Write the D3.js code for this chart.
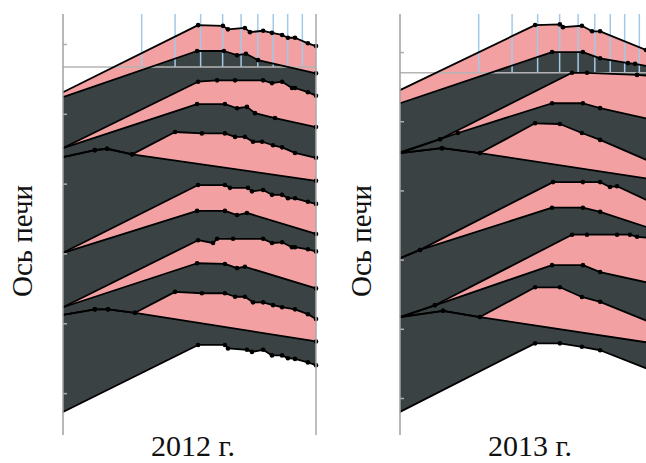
<!DOCTYPE html>
<html><head><meta charset="utf-8">
<script src="https://cdn.jsdelivr.net/npm/d3@7"></script>
<style>body{margin:0;background:#fff}svg{display:block}</style>
</head><body><svg id="c" width="646" height="463"></svg>
<script>
// ---- data: boundary profiles, x = relative position along the section (0..100), y = height (units) ----
const years = ["2012 г.", "2013 г."];
const axisLabel = "Ось печи";
const yTicks = [0, 10, 20, 30, 40, 50];
const refX = [31.1, 44.3, 54.4, 63.1, 70.4, 77.0, 83.1, 88.8, 94.6];
const refY2012 = 46.7;
const refY2013 = 47.0;

const l12_01 = [[0,43.1],[53.4,52.7],[63.2,52.6],[65.2,52.1],[71.9,52.3],[73.9,51.7],[79.1,51.9],[82.6,51.6],[86.6,51.3],[88.9,50.9],[91.7,50.9],[96.8,50.1],[100,49.7]];
const l12_02 = [[0,42.4],[53.0,49.0],[63.6,49.0],[68.8,48.4],[72.3,48.6],[77.1,47.7],[100,45.8]];
const l12_03 = [[0,35.1],[53.4,44.6],[60.9,44.8],[68.0,44.8],[79.1,44.8],[82.6,44.4],[86.6,44.6],[90.5,43.7],[91.7,43.7],[96.8,43.1],[100,42.6]];
const l12_04 = [[0,35.1],[53.0,41.4],[64.0,41.4],[68.8,40.8],[72.7,41.0],[75.9,40.1],[83.8,39.4],[100,38.1]];
const l12_05 = [[0,33.8],[12.6,34.8],[17.4,35.0],[27.3,34.2],[44.3,37.4],[54.9,37.2],[64.0,37.2],[68.0,36.7],[71.9,36.7],[75.1,36.0],[78.7,36.0],[83.0,35.5],[86.6,35.2],[91.7,34.4],[100,33.7]];
const l12_06 = [[0,33.8],[12.6,34.8],[17.4,35.0],[27.3,34.2],[100,30.4]];
const l12_07 = [[0,20.1],[53.4,29.8],[64.0,29.8],[66.0,29.4],[73.1,29.4],[74.7,28.9],[79.1,29.1],[82.6,28.4],[86.6,28.4],[88.9,27.9],[91.7,27.9],[96.8,27.4],[100,27.1]];
const l12_08 = [[0,20.1],[53.0,26.1],[64.0,26.1],[68.8,25.5],[72.7,25.8],[100,22.8]];
const l12_09 = [[0,12.3],[53.4,21.9],[59.3,21.5],[60.9,22.1],[67.2,22.1],[79.1,22.1],[82.6,21.5],[86.6,21.6],[90.5,20.9],[91.7,20.9],[96.8,20.6],[100,20.3]];
const l12_10 = [[0,12.3],[53.0,18.6],[64.0,18.5],[68.8,17.9],[71.9,18.1],[100,15.0]];
const l12_11 = [[0,11.2],[12.6,12.0],[17.8,12.0],[28.5,11.5],[44.3,14.5],[54.9,14.3],[64.0,14.3],[68.0,13.8],[71.9,13.8],[75.1,13.0],[79.1,13.0],[83.0,12.6],[86.6,12.3],[91.7,12.0],[96.8,11.3],[100,10.6]];
const l12_12 = [[0,11.2],[12.6,12.0],[17.8,12.0],[28.5,11.5],[100,7.4]];
const l12_13 = [[0,-2.7],[53.4,6.9],[64.0,6.9],[65.2,6.4],[72.7,6.2],[74.7,5.9],[79.1,6.2],[82.6,5.4],[86.6,5.4],[88.9,5.0],[91.7,4.9],[96.8,4.4],[100,4.0]];

const l13_01 = [[0,44.5],[53.4,53.9],[63.2,54.0],[64.4,53.6],[71.9,53.8],[75.9,53.0],[79.1,53.0],[97.2,50.3],[100,49.9]];
const l13_02 = [[0,42.6],[60.1,50.0],[72.3,50.0],[79.1,49.1],[90.1,48.4],[92.9,48.3],[100,47.8]];
const l13_03 = [[0,35.5],[15.8,37.4],[68.0,47.0],[73.9,47.0],[93.7,46.7],[100,46.5]];
const l13_04 = [[0,35.4],[15.8,37.4],[22.9,38.3],[60.1,42.6],[72.3,42.6],[79.1,41.9],[100,40.2]];
const l13_05 = [[0,35.4],[16.6,36.1],[31.6,35.4],[53.4,39.7],[63.2,39.6],[71.9,38.3],[79.1,37.3],[100,34.0]];
const l13_06 = [[0,35.4],[16.6,36.1],[31.6,35.4],[100,31.6]];
const l13_07 = [[0,20.2],[7.9,21.4],[60.5,31.2],[72.3,31.2],[79.1,31.2],[83.0,30.5],[85.8,30.6],[100,28.2]];
const l13_08 = [[0,20.2],[7.9,21.4],[60.1,27.5],[72.3,27.5],[79.1,26.9],[100,24.4]];
const l13_09 = [[0,11.7],[13.8,13.4],[68.0,23.6],[73.9,23.6],[85.8,23.6],[90.9,23.6],[93.7,23.3],[100,23.1]];
const l13_10 = [[0,11.7],[13.8,13.4],[60.1,19.2],[72.3,19.2],[79.1,18.2],[100,16.5]];
const l13_11 = [[0,11.7],[17.0,12.6],[31.6,11.7],[53.4,16.0],[63.2,16.0],[71.9,14.6],[79.1,13.9],[100,10.8]];
const l13_12 = [[0,11.7],[17.0,12.6],[31.6,11.7],[100,7.9]];
const l13_13 = [[0,-2.0],[53.4,7.9],[63.2,7.9],[71.9,7.4],[79.1,6.9],[100,3.9]];

const bands2012 = [l12_01,l12_02,l12_03,l12_04,l12_05,l12_06,l12_07,l12_08,l12_09,l12_10,l12_11,l12_12,l12_13];
const bands2013 = [l13_01,l13_02,l13_03,l13_04,l13_05,l13_06,l13_07,l13_08,l13_09,l13_10,l13_11,l13_12,l13_13];

// ---- drawing ----
const PINK = "#f2a0a1", DARK = "#3a4243";
const svg = d3.select("#c");
const W = 253, TOP = 14, BOTTOM = 435;
const panels = [
  {label: years[0], lines: bands2012, refY: refY2012, x0: 63, yDom: [-6.0, 54.3], border: true, ylabX: 22, titleX: 193},
  {label: years[1], lines: bands2013, refY: refY2013, x0: 400, yDom: [-5.35, 55.5], border: false, ylabX: 361, titleX: 530}
];

panels.forEach(p => {
  const x = d3.scaleLinear().domain([0, 100]).range([p.x0, p.x0 + W]);
  const y = d3.scaleLinear().domain(p.yDom).range([BOTTOM, TOP]);
  const g = svg.append("g");
  const line = d3.line().x(d => x(d[0])).y(d => y(d[1]));

  // bands
  for (let i = 0; i < p.lines.length - 1; i++) {
    const poly = p.lines[i].concat(p.lines[i + 1].slice().reverse());
    g.append("path").attr("d", line(poly) + "Z")
      .attr("fill", i % 2 === 0 ? PINK : DARK);
  }
  // reference grid at top
  g.selectAll("line.rv").data(refX).join("line").attr("class","rv")
    .attr("x1", d => x(d)).attr("x2", d => x(d))
    .attr("y1", y(p.yDom[1])).attr("y2", y(p.refY))
    .attr("stroke", "#a3c9e8").attr("stroke-width", 1.5);
  g.append("line").attr("x1", x(0)).attr("x2", x(100))
    .attr("y1", y(p.refY)).attr("y2", y(p.refY))
    .attr("stroke", "#b4b4b4").attr("stroke-width", 1.5);

  // boundary lines
  p.lines.forEach(l => {
    g.append("path").attr("d", line(l)).attr("fill", "none")
      .attr("stroke", "#000").attr("stroke-width", 1.8).attr("stroke-linejoin", "round");
    g.selectAll(null).data(l.filter(d => d[0] > 0)).join("circle")
      .attr("cx", d => x(d[0])).attr("cy", d => y(d[1])).attr("r", 2.3).attr("fill", "#000");
  });

  // axis
  const ax = g.append("g").attr("transform", `translate(${x(0)},0)`)
    .call(d3.axisRight(y).tickValues(yTicks).tickSize(4).tickFormat(""));
  ax.select(".domain").remove();
  ax.selectAll(".tick line").attr("stroke", "#b0b0b0").attr("stroke-width", 1.5);
  g.append("line").attr("x1", x(0)).attr("x2", x(0)).attr("y1", TOP).attr("y2", BOTTOM)
    .attr("stroke", "#a0a0a0").attr("stroke-width", 1.5);
  if (p.border) {
    g.append("line").attr("x1", x(100)).attr("x2", x(100)).attr("y1", TOP).attr("y2", BOTTOM)
      .attr("stroke", "#a8a8a8").attr("stroke-width", 1.5);
  }

  // labels
  svg.append("text").attr("transform", `translate(${p.ylabX},241) rotate(-90)`)
    .attr("text-anchor", "middle").attr("dominant-baseline", "central")
    .style("font-family", "'Liberation Serif', 'Times New Roman', serif").style("font-size", "29px")
    .attr("fill", "#111").text(axisLabel);
  svg.append("text").attr("x", p.titleX).attr("y", 456).attr("text-anchor", "middle")
    .style("font-family", "'Liberation Serif', 'Times New Roman', serif").style("font-size", "30px")
    .attr("fill", "#111").text(p.label);
});
</script>
</body></html>
